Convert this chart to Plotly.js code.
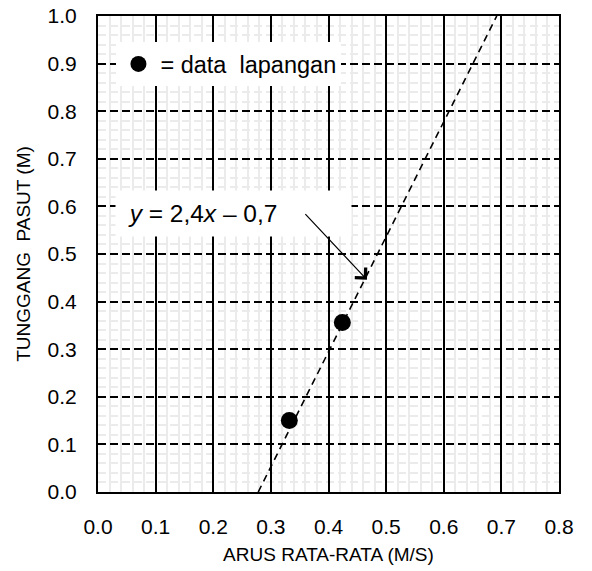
<!DOCTYPE html>
<html>
<head>
<meta charset="utf-8">
<script src="https://cdn.plot.ly/plotly-3.0.1.min.js"></script>
<style>
  html, body { margin: 0; padding: 0; background: #ffffff; }
  #chart { width: 592px; height: 571px; }
</style>
</head>
<body>
<div id="chart"></div>
<script>
// ---- data ----
const pointX = [0.332, 0.424];
const pointY = [0.150, 0.356];
const pointName = "= data\u00a0 lapangan";

const fitX = [0.278, 0.692];
const fitY = [0.0, 1.0];
const fitLabel = "\u00a0\u00a0<i>y</i> = 2,4<i>x</i> \u2013 0,7";

const xTickVals = [0.0, 0.1, 0.2, 0.3, 0.4, 0.5, 0.6, 0.7, 0.8];
const xTickText = ["0.0", "0.1", "0.2", "0.3", "0.4", "0.5", "0.6", "0.7", "0.8"];
const yTickVals = [0.0, 0.1, 0.2, 0.3, 0.4, 0.5, 0.6, 0.7, 0.8, 0.9, 1.0];
const yTickText = ["0.0", "0.1", "0.2", "0.3", "0.4", "0.5", "0.6", "0.7", "0.8", "0.9", "1.0"];

const xTitle = "ARUS RATA-RATA (M/S)";
const yTitle = "TUNGGANG\u00a0 PASUT (M)";

// arrow from label to fit line (data coords)
const arrowHead = [0.4667, 0.446];
const arrowTail = [0.3574, 0.587];

const FONT = "Liberation Sans, Arial, sans-serif";

const traces = [
  {
    x: fitX, y: fitY, type: "scatter", mode: "lines",
    line: { color: "#000000", width: 1.6, dash: "7px,5px" },
    showlegend: false, hoverinfo: "skip"
  },
  {
    x: pointX, y: pointY, type: "scatter", mode: "markers",
    name: pointName,
    marker: { color: "#000000", size: 17, line: { width: 0 } },
    showlegend: true
  }
];

const layout = {
  width: 592, height: 571,
  margin: { l: 98, r: 33, t: 16, b: 79 },
  paper_bgcolor: "#ffffff",
  plot_bgcolor: "#ffffff",
  font: { family: FONT, color: "#000000", size: 21 },
  showlegend: true,
  legend: {
    x: 0.04, y: 0.945, xanchor: "left", yanchor: "top",
    bgcolor: "#ffffff", borderwidth: 0,
    font: { family: FONT, size: 23.5, color: "#000000" },
    itemsizing: "trace", itemwidth: 34
  },
  xaxis: {
    range: [0, 0.8], autorange: false,
    tickvals: xTickVals, ticktext: xTickText,
    ticks: "", ticklabelstandoff: 15,
    tickfont: { family: FONT, size: 21, color: "#000000" },
    showgrid: true, gridcolor: "#000000", gridwidth: 2,
    zeroline: false,
    showline: true, linecolor: "#000000", linewidth: 2, mirror: true,
    minor: { dtick: 0.02, tick0: 0, showgrid: true, gridcolor: "#ebebeb", gridwidth: 2, ticks: "" },
    title: { text: xTitle, font: { family: FONT, size: 19, color: "#000000" }, standoff: 10 },
    fixedrange: true
  },
  yaxis: {
    range: [0, 1.0], autorange: false,
    tickvals: yTickVals, ticktext: yTickText,
    ticks: "", ticklabelstandoff: 15,
    tickfont: { family: FONT, size: 21, color: "#000000" },
    showgrid: true, gridcolor: "#000000", gridwidth: 2, griddash: "8px,4px",
    zeroline: false,
    showline: true, linecolor: "#000000", linewidth: 2, mirror: true,
    minor: { dtick: 0.02, tick0: 0, showgrid: true, gridcolor: "#ebebeb", gridwidth: 2, ticks: "" },
    title: { text: yTitle, font: { family: FONT, size: 19, color: "#000000" }, standoff: 12 },
    fixedrange: true
  },
  annotations: [
    {
      xref: "paper", yref: "paper",
      x: 0.037, y: 0.634, xanchor: "left", yanchor: "top",
      text: fitLabel, showarrow: false,
      width: 235, height: 45, align: "left", valign: "middle",
      bgcolor: "#ffffff", borderpad: 0,
      font: { family: FONT, size: 24.5, color: "#000000" }
    },
    {
      xref: "x", yref: "y", axref: "x", ayref: "y",
      x: arrowHead[0], y: arrowHead[1],
      ax: arrowTail[0], ay: arrowTail[1],
      text: "", showarrow: true,
      arrowhead: 4, arrowsize: 2.4, arrowwidth: 1.2, arrowcolor: "#000000"
    }
  ]
};

Plotly.newPlot("chart", traces, layout, { staticPlot: true, displayModeBar: false });
</script>
</body>
</html>
